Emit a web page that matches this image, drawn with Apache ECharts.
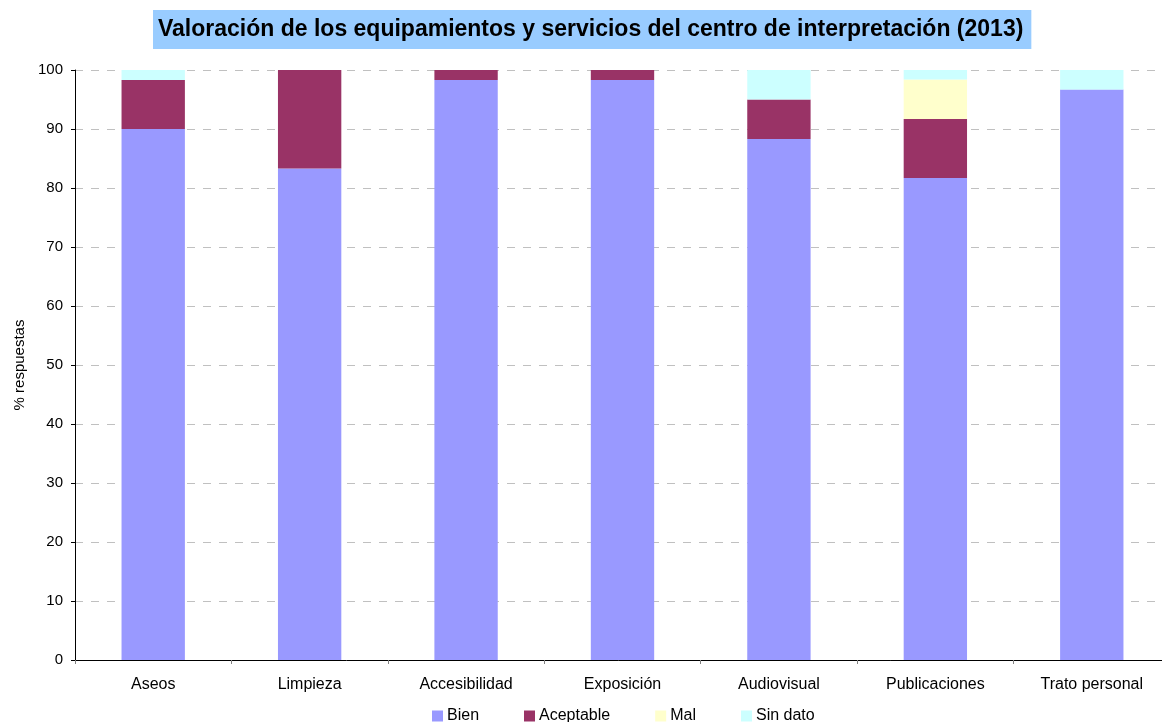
<!DOCTYPE html>
<html><head><meta charset="utf-8">
<script src="https://cdn.jsdelivr.net/npm/echarts@6/dist/echarts.min.js"></script>
<style>html,body{margin:0;padding:0;background:#fff;overflow:hidden}#c{width:1162px;height:722px}</style>
</head><body><div id="c"></div>
<script>
const categories = ['Aseos','Limpieza','Accesibilidad','Exposición','Audiovisual','Publicaciones','Trato personal'];
const bien = [90, 83.3, 98.3, 98.3, 88.3, 81.7, 96.7];
const aceptable = [8.3, 16.7, 1.7, 1.7, 6.7, 10, 0];
const mal = [0, 0, 0, 0, 0, 6.7, 0];
const sinDato = [1.7, 0, 0, 0, 5, 1.7, 3.3];
const seriesNames = ['Bien','Aceptable','Mal','Sin dato'];
const colors = ['#9999FF','#993366','#FFFFCC','#CCFFFF'];
const yTicks = {min: 0, max: 100, interval: 10};

const font = 'Liberation Sans, Arial, sans-serif';
const chart = echarts.init(document.getElementById('c'));
const mk = (name, data, i) => ({
  name, type: 'bar', stack: 'a', data, barWidth: '40.5%',
  itemStyle: {color: colors[i]}, emphasis: {disabled: true}
});
chart.setOption({
  animation: false,
  textStyle: {fontFamily: font},
  title: {
    text: 'Valoración de los equipamientos y servicios del centro de interpretación (2013)',
    left: 153, top: 10,
    backgroundColor: '#99CCFF', padding: [6, 8, 5, 5],
    textStyle: {fontFamily: font, fontWeight: 'bold', fontSize: 23, lineHeight: 28, color: '#000'}
  },
  legend: {
    top: 708, left: 432, padding: 0, itemWidth: 11, itemHeight: 11, itemGap: 45,
    icon: 'rect', data: seriesNames,
    textStyle: {fontFamily: font, fontSize: 16, color: '#000', padding: [0, 0, 0, -1]}
  },
  grid: {left: 75, width: 1095, top: 70, height: 590, containLabel: false, outerBoundsMode: 'none'},
  xAxis: {
    type: 'category', data: categories,
    axisLine: {lineStyle: {color: '#000'}},
    axisTick: {show: true, lineStyle: {color: '#808080'}, length: 4},
    axisLabel: {fontFamily: font, fontSize: 16, color: '#000', margin: 17}
  },
  yAxis: {
    type: 'value', min: yTicks.min, max: yTicks.max, interval: yTicks.interval,
    name: '% respuestas', nameLocation: 'middle', nameGap: 48, nameRotate: 90,
    nameTextStyle: {fontFamily: font, fontSize: 15, color: '#000'},
    axisLine: {show: true, lineStyle: {color: '#000'}},
    axisTick: {show: true, length: 4, lineStyle: {color: '#000'}},
    axisLabel: {fontFamily: font, fontSize: 15, color: '#000', margin: 12},
    splitLine: {lineStyle: {color: '#C0C0C0', type: [8, 8]}}
  },
  series: [mk('Bien', bien, 0), mk('Aceptable', aceptable, 1), mk('Mal', mal, 2), mk('Sin dato', sinDato, 3)]
});
</script></body></html>
